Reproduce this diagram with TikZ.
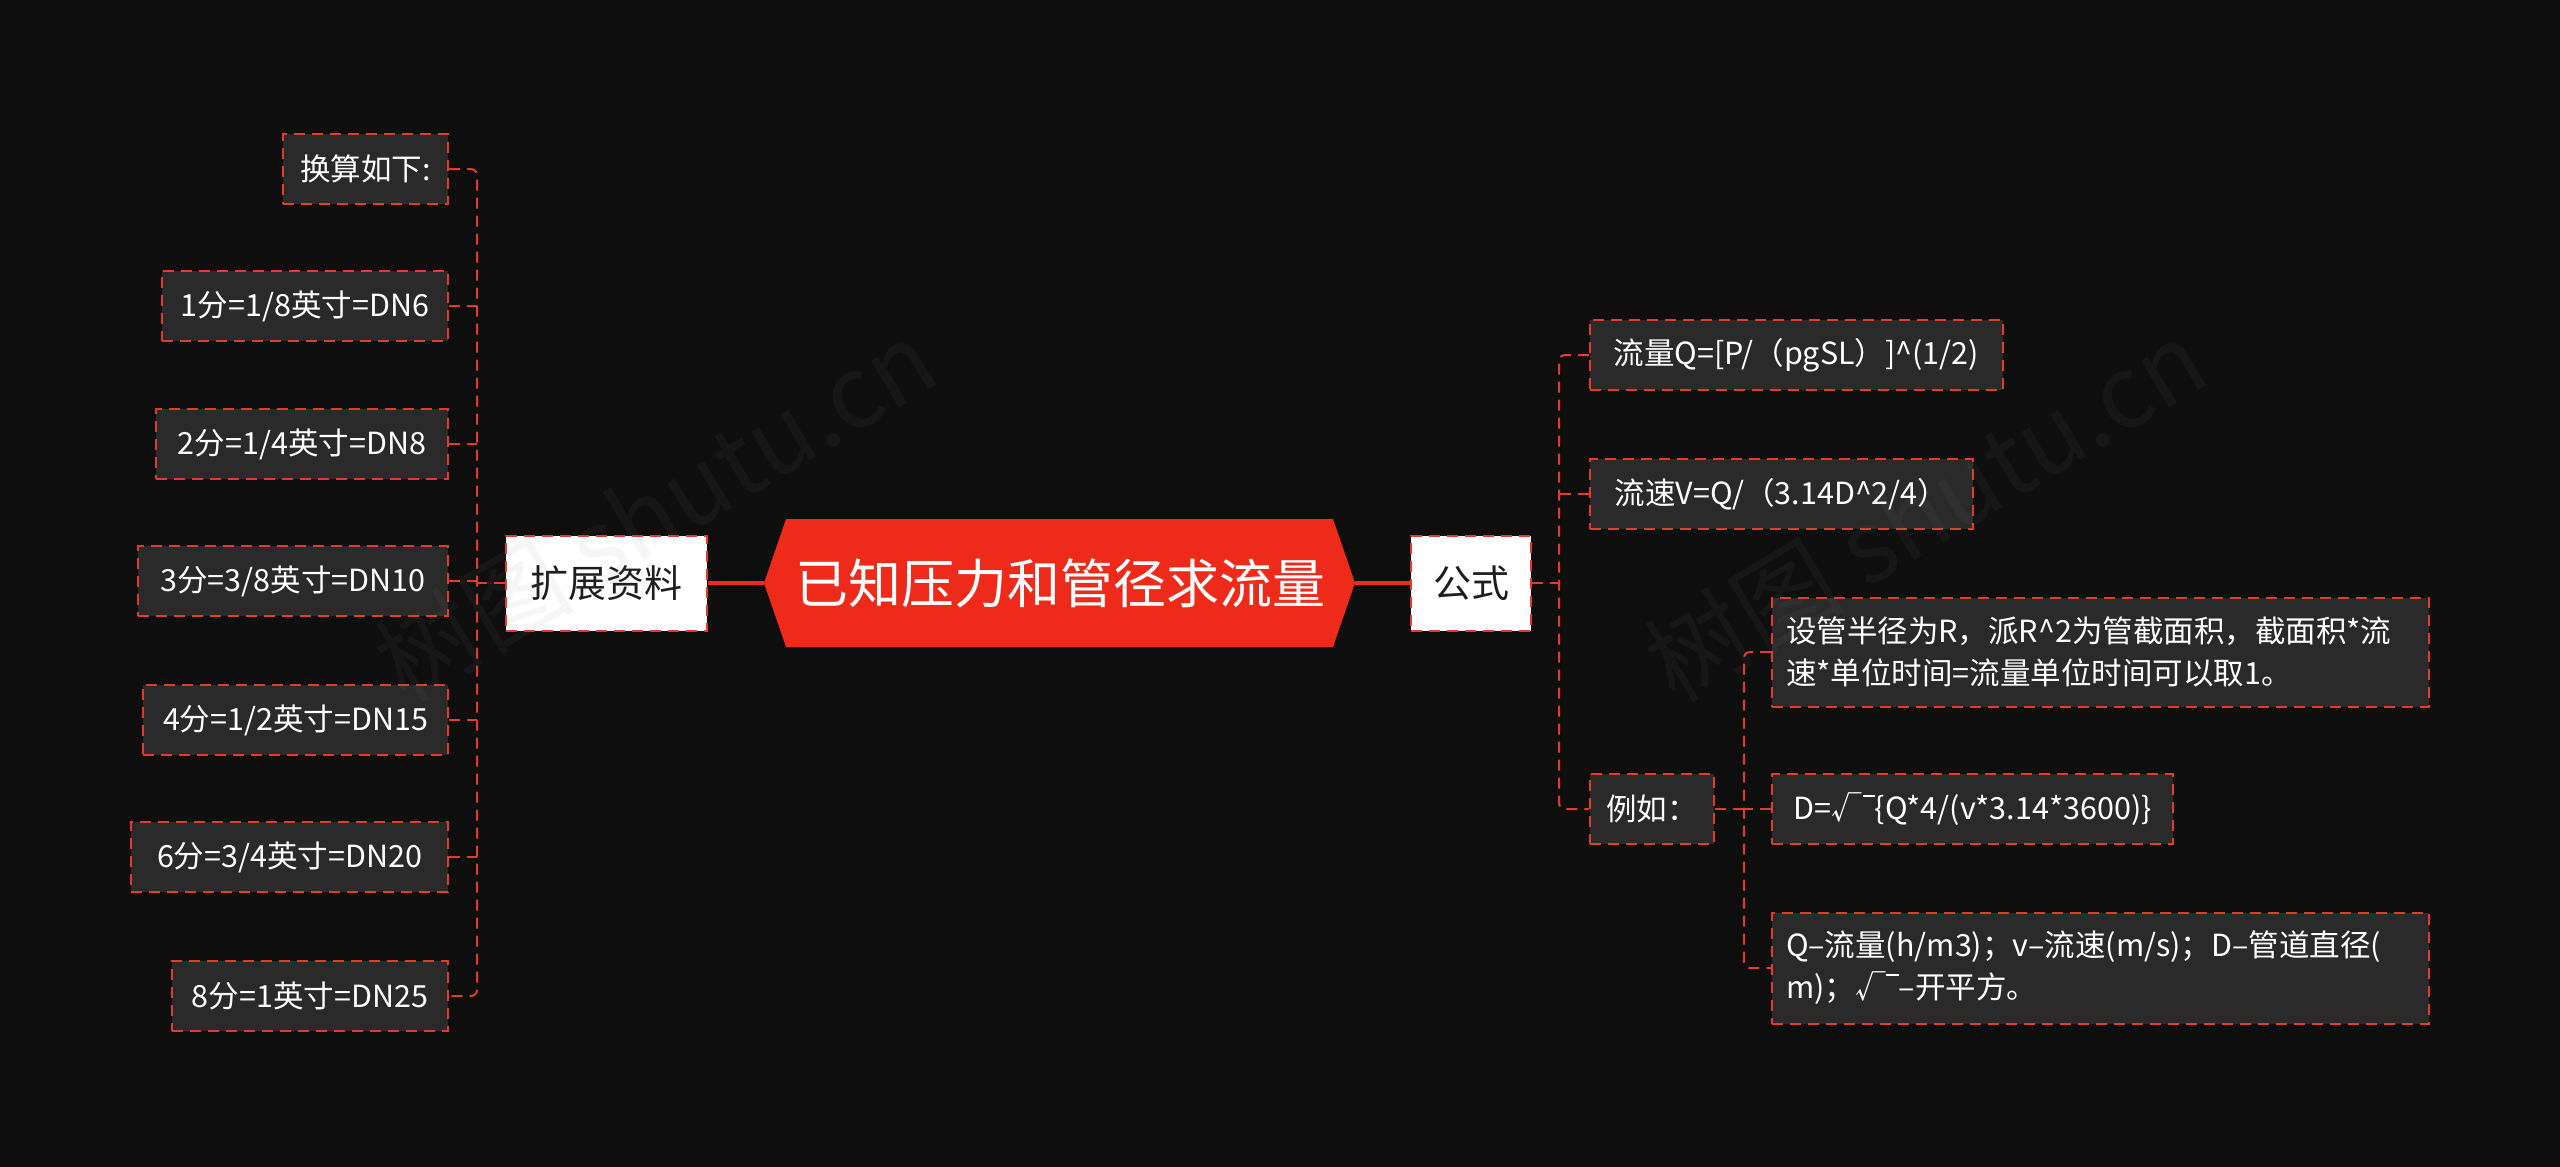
\documentclass[tikz,border=0pt]{standalone}
\usepackage{fontspec}
\setmainfont{Noto Sans CJK SC}
\definecolor{bg}{HTML}{0E0E0F}
\definecolor{boxgray}{HTML}{2A2A2A}
\definecolor{linkred}{HTML}{E23B2C}
\definecolor{mainred}{HTML}{EE2A1B}
\definecolor{darktext}{HTML}{1E1E1E}
\newcommand{\sqbar}{√\kern0.03em\raisebox{0.74em}{\rule{0.4em}{0.06em}}}
\tikzset{
  leaf/.style={draw=linkred, line width=2pt, dash pattern=on 11pt off 7pt, fill=boxgray, text=white,
    font=\fontsize{30.5}{42}\selectfont, minimum height=70pt, inner xsep=14pt, inner ysep=0pt},
  midbox/.style={draw=linkred, line width=2pt, dash pattern=on 11pt off 7pt, fill=white, text=darktext,
    font=\fontsize{38}{46}\selectfont, minimum height=95pt, inner sep=0pt},
  link/.style={draw=linkred, line width=2pt, dash pattern=on 11pt off 7pt},
  trunk/.style={draw=mainred, line width=3.5pt},
  wm/.style={text=gray, text opacity=0.07, font=\fontsize{100}{110}\selectfont, rotate=31}
}
\begin{document}
\begin{tikzpicture}[x=1pt,y=-1pt]
\fill[bg] (0,0) rectangle (2560,1167);
\useasboundingbox (0,0) rectangle (2560,1167);

% central node
\fill[mainred] (764,583) -- (786,519) -- (1333,519) -- (1355,583) -- (1333,647) -- (786,647) -- cycle;
\node[font=\fontsize{53}{60}\selectfont, text=white, inner sep=0pt] (root) at (1060,583) {已知压力和管径求流量};
\coordinate (rootW) at (764,583);
\coordinate (rootE) at (1355,583);

% level 1
\node[midbox, minimum width=201pt] (ext) at (606.5,583) {扩展资料};
\node[midbox, minimum width=120pt] (gs) at (1471,583) {公式};
\draw[trunk] (ext.east) -- (rootW);
\draw[trunk] (rootE) -- (gs.west);

% left children
\node[leaf, anchor=east, minimum width=165pt] (c1) at (449,169) {换算如下:};
\node[leaf, anchor=east, minimum width=286pt] (c2) at (449,306) {1分=1/8英寸=DN6};
\node[leaf, anchor=east, minimum width=292pt] (c3) at (449,444) {2分=1/4英寸=DN8};
\node[leaf, anchor=east, minimum width=310pt] (c4) at (449,581) {3分=3/8英寸=DN10};
\node[leaf, anchor=east, minimum width=305pt] (c5) at (449,720) {4分=1/2英寸=DN15};
\node[leaf, anchor=east, minimum width=317pt] (c6) at (449,857) {6分=3/4英寸=DN20};
\node[leaf, anchor=east, minimum width=276pt] (c7) at (449,996) {8分=1英寸=DN25};

\coordinate (ls) at (477,583);
\draw[link] (ext.west) -- (ls);
\draw[link, rounded corners=6pt] (c1.east) -| (ls) |- (c7.east);
\foreach \n in {c2,c3,c4,c5,c6}{
  \draw[link] (\n.east) -- (\n.east -| ls);
}

% right children of 公式
\node[leaf, anchor=west, minimum width=413pt] (r1) at (1589,355) {流量Q=[P/（pgSL）]\^{}(1/2)};
\node[leaf, anchor=west, minimum width=383pt] (r2) at (1589,494) {流速V=Q/（3.14D\^{}2/4）};
\node[leaf, anchor=west, minimum width=124pt] (ex) at (1589,809) {例如：};

\coordinate (rs) at (1559,583);
\draw[link] (gs.east) -- (rs);
\draw[link, rounded corners=6pt] (r1.west) -| (rs) |- (ex.west);
\draw[link] (r2.west) -- (r2.west -| rs);

% children of 例如
\node[leaf, anchor=west, align=left, text width=629pt, inner xsep=14pt, minimum height=109pt] (e1) at (1771,652)
  {设管半径为R，派R\^{}2为管截面积，截面积*流\\速*单位时间=流量单位时间可以取1。};
\node[leaf, anchor=west, minimum width=401pt] (e2) at (1771,809) {D=\sqbar\{Q*4/(v*3.14*3600)\}};
\node[leaf, anchor=west, align=left, text width=629pt, inner xsep=14pt, minimum height=111pt] (e3) at (1771,968)
  {Q–流量(h/m3)；v–流速(m/s)；D–管道直径(\\m)；\sqbar–开平方。};

\coordinate (es) at (1744,809);
\draw[link] (ex.east) -- (es);
\draw[link, rounded corners=6pt] (e1.west) -| (es) |- (e3.west);
\draw[link] (e2.west) -- (es);

% watermarks
\node[wm] (wm1) at (655,510) {树图 shutu.cn};
\node[wm] (wm2) at (1925,510) {树图 shutu.cn};
\end{tikzpicture}
\end{document}
